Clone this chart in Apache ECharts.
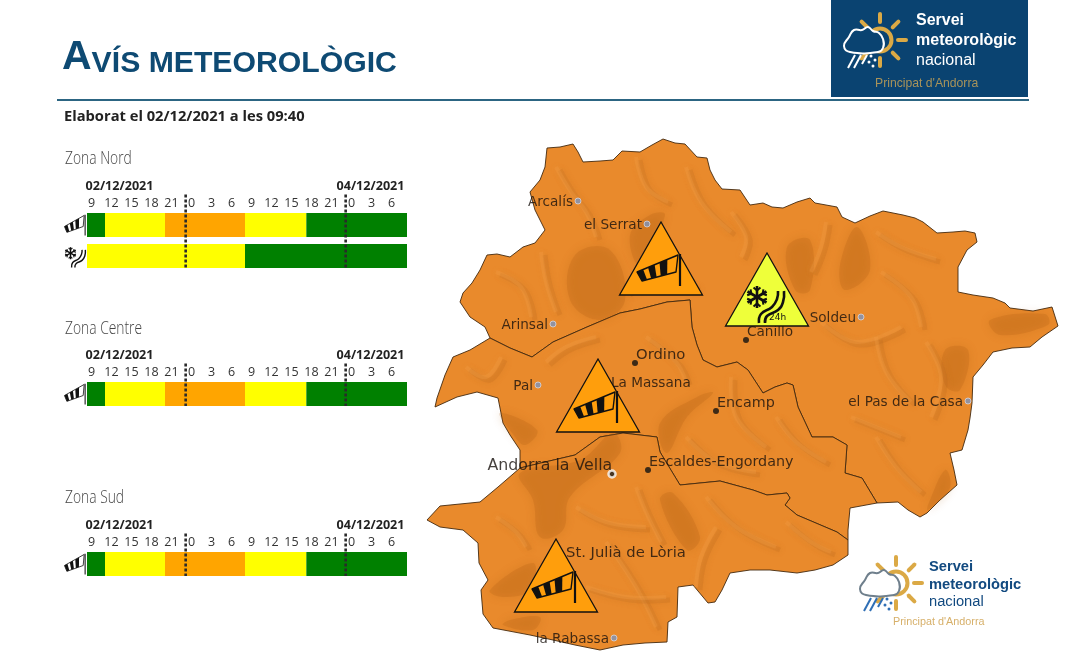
<!DOCTYPE html>
<html lang="ca">
<head>
<meta charset="utf-8">
<title>Avís meteorològic</title>
<script src="https://cdn.jsdelivr.net/npm/echarts@6/dist/echarts.min.js"></script>
<style>
  html, body { margin: 0; padding: 0; background: #fff; }
  #main { width: 1081px; height: 661px; }
</style>
</head>
<body>
<div id="main"></div>
<script type="text/javascript">
// timelines: hours counted from 00:00 of 02/12, [from, to, level]
var windNord = [[9, 11.7, 0], [11.7, 20.7, 1], [20.7, 32.7, 2], [32.7, 41.9, 1], [41.9, 57, 0]];
var iceNord = [[9, 32.7, 1], [32.7, 57, 0]];
var windCentre = [[9, 11.7, 0], [11.7, 20.7, 1], [20.7, 32.7, 2], [32.7, 41.9, 1], [41.9, 57, 0]];
var windSud = [[9, 11.7, 0], [11.7, 20.7, 1], [20.7, 32.7, 2], [32.7, 41.9, 1], [41.9, 57, 0]];
var dayMarks = [23.8, 47.8];
var levelColors = ['#008000', '#ffff00', '#ffa500'];
var zoneNames = ['Zona Nord', 'Zona Centre', 'Zona Sud'];

// map outline pieces, image units
var outlineNord = [[490,338],[485,327],[470,317],[460,302],[463,293],[472,283],[480,270],[487,255],[497,254],[510,257],[523,247],[535,243],[545,230],[540,220],[535,210],[530,192],[540,180],[545,167],[547,148],[560,147],[573,144],[578,152],[583,162],[600,161],[613,160],[622,151],[640,152],[652,145],[663,139],[675,143],[685,144],[697,157],[707,158],[710,170],[715,180],[722,189],[740,190],[750,205],[763,203],[772,207],[783,208],[797,202],[810,198],[815,203],[837,207],[842,217],[855,223],[870,216],[883,211],[903,215],[915,218],[923,222],[937,233],[953,232],[965,231],[975,233],[977,242],[967,250],[958,267],[958,292],[973,295],[993,298],[1005,303],[1010,308],[1033,311],[1052,307],[1058,326],[1042,337],[1030,347],[1012,348],[993,352],[983,365],[973,377],[972,403],[970,418],[968,430],[962,450],[950,453],[954,470],[957,485],[940,500],[927,513],[920,517],[908,510],[898,502],[877,503]];
var borderNordCentre = [[490,338],[510,348],[532,357],[553,342],[587,327],[620,313],[640,309],[667,302],[690,300],[692,327],[697,345],[703,360],[717,367],[737,362],[748,370],[763,393],[775,387],[787,383],[793,385],[798,407],[812,437],[833,437],[847,445],[845,473],[862,478],[877,503]];
var outlineEast = [[877,503],[850,508],[848,530],[848,540]];
var borderCentreSud = [[520,468],[545,462],[575,455],[600,437],[623,433],[657,437],[660,452],[680,485],[720,481],[753,490],[767,495],[787,493],[790,498],[785,505],[797,515],[837,532],[848,540]];
var outlineWest = [[520,468],[520,450],[510,435],[503,423],[498,398],[477,392],[457,397],[435,407],[437,398],[445,375],[453,357],[470,350],[490,338]];
var outlineSud = [[848,540],[848,555],[833,565],[815,570],[797,573],[770,570],[750,570],[730,573],[722,590],[715,602],[708,603],[693,585],[678,587],[677,617],[668,622],[667,642],[645,643],[623,645],[600,650],[575,645],[553,640],[530,635],[493,628],[483,614],[481,590],[488,580],[479,563],[478,543],[463,530],[440,527],[427,520],[440,506],[480,502],[498,487],[520,468]];

// darker slopes of the relief
var shadePatches = [
  [[575,255],[610,250],[625,300],[600,320],[570,300]],
  [[787,247],[810,240],[810,290],[795,290]],
  [[857,227],[840,265],[845,290],[870,270]],
  [[945,350],[968,350],[960,390],[945,385]],
  [[928,505],[945,470],[950,488],[928,510]],
  [[520,473],[580,460],[613,433],[620,453],[570,497],[563,530],[540,537],[533,500]],
  [[490,590],[533,563],[530,590],[503,597]],
  [[510,620],[540,617],[533,630],[503,625]],
  [[660,423],[697,397],[713,393],[687,417],[667,453]],
  [[660,500],[687,550],[700,537],[673,493]],
  [[500,413],[537,430],[525,445],[512,433]],
  [[630,235],[650,215],[665,215],[640,265]],
  [[990,320],[1045,314],[1048,325],[1000,335]]
];
// thin ridge lines of the relief
var ridgeLines = [
  [[560,170],[575,195],[590,215],[600,240]], [[640,160],[650,190],[672,205]], [[690,170],[705,205],[735,235]],
  [[500,275],[525,290],[535,320]], [[545,255],[550,285],[560,315]], [[630,295],[655,285],[700,290]],
  [[735,215],[750,240],[745,260]], [[830,225],[825,250],[815,275]], [[880,235],[905,250],[940,262]],
  [[885,275],[915,300],[925,330]], [[825,325],[860,345],[905,330]], [[880,340],[890,375],[915,405]],
  [[930,345],[945,380],[935,420]], [[880,440],[900,470],[925,495]], [[855,420],[880,430],[905,440]],
  [[470,370],[490,380],[505,360]], [[550,365],[570,350],[600,340]], [[650,340],[680,365],[690,385]],
  [[735,380],[740,420],[770,450]], [[780,420],[800,445],[830,465]], [[690,440],[720,465],[760,475]],
  [[710,500],[740,530],[780,550]], [[790,525],[815,545],[835,555]], [[580,510],[610,525],[650,530]],
  [[610,545],[640,590],[660,630]], [[590,590],[630,600],[670,600]], [[500,520],[520,535],[530,550]],
  [[720,530],[705,560],[700,590]], [[640,490],[650,515],[665,545]]
];

var townNames = ['Arcalís', 'el Serrat', 'Arinsal', 'Pal', 'Ordino', 'La Massana', 'Canillo', 'Encamp', 'Soldeu', 'el Pas de la Casa', 'Escaldes-Engordany', 'Andorra la Vella', 'St. Julià de Lòria', 'la Rabassa'];
var townPlaces = [[578,201],[647,224],[553,324],[538,385],[635,363],[612,392],[746,340],[716,411],[861,317],[968,401],[648,470],[612,474],[564,562],[614,638]];
var townKinds = ['village', 'village', 'village', 'village', 'parish', 'parish', 'parish', 'parish', 'village', 'village', 'parish', 'capital', 'parish', 'village'];
// warnings on the map: apex of the triangle, kind, level
var warnPlaces = [[661,222],[598,359],[556,539],[767,253]];
var warnKinds = ['wind', 'wind', 'wind', 'ice'];
var warnColors = ['#ff9e0c', '#ff9e0c', '#ff9e0c', '#eeff3a'];

var FONT = '"Open Sans", sans-serif';
var MAPFONT = '"DejaVu Sans", sans-serif';
var LOGOFONT = '"Liberation Sans", sans-serif';

function concatRev(list) { return list.slice().reverse(); }
var zoneNord = outlineNord.concat(concatRev(borderNordCentre));
var zoneCentre = borderNordCentre.concat(outlineEast.slice(1), concatRev(borderCentreSud).slice(1), outlineWest.slice(1));
var zoneSud = borderCentreSud.concat(outlineSud.slice(1));

var features = [['Nord', zoneNord], ['Centre', zoneCentre], ['Sud', zoneSud]].map(function (z) {
    return { type: 'Feature', properties: { name: z[0] }, geometry: { type: 'Polygon', coordinates: [z[1].concat([z[1][0]])] } };
});
echarts.registerMap('andorra', { type: 'FeatureCollection', features: features });

var all = zoneNord.concat(zoneCentre, zoneSud);
var xs = all.map(function (p) { return p[0]; }), ys = all.map(function (p) { return p[1]; });
var minX = Math.min.apply(null, xs), maxX = Math.max.apply(null, xs);
var minY = Math.min.apply(null, ys), maxY = Math.max.apply(null, ys);

// windsock, drawn around the apex of a warning triangle
function sockParts(fill) {
    var t0 = [-24, 50], t1 = [17, 33], b0 = [-19, 59], b1 = [15, 50];
    function at(a, b, f) { return [a[0] + (b[0] - a[0]) * f, a[1] + (b[1] - a[1]) * f]; }
    var parts = [{
        type: 'polygon', shape: { points: [t0, t1, b1, b0] },
        style: { fill: fill, stroke: '#111', lineWidth: 1.4, lineJoin: 'round' }
    }];
    [[0, 0.15], [0.27, 0.43], [0.55, 0.74]].forEach(function (b) {
        parts.push({
            type: 'polygon',
            shape: { points: [at(t0, t1, b[0]), at(t0, t1, b[1]), at(b0, b1, b[1]), at(b0, b1, b[0])] },
            style: { fill: '#111' }
        });
    });
    parts.push({ type: 'line', shape: { x1: 19, y1: 32, x2: 19, y2: 64 }, style: { stroke: '#111', lineWidth: 2.2 } });
    return parts;
}

// snowflake and bending road
function iceParts(withLabel) {
    var parts = [];
    var cx = -10, cy = 44, r = 11;
    [0, 60, 120].forEach(function (deg) {
        var a = deg * Math.PI / 180, dx = Math.sin(a) * r, dy = Math.cos(a) * r;
        parts.push({ type: 'line', shape: { x1: cx - dx, y1: cy - dy, x2: cx + dx, y2: cy + dy }, style: { stroke: '#111', lineWidth: 2.6 } });
    });
    [0, 60, 120, 180, 240, 300].forEach(function (deg) {
        var a = deg * Math.PI / 180;
        var mx = cx + Math.sin(a) * 6.5, my = cy + Math.cos(a) * 6.5;
        [-50, 50].forEach(function (off) {
            var b = (deg + off) * Math.PI / 180;
            parts.push({ type: 'line', shape: { x1: mx, y1: my, x2: mx + Math.sin(b) * 4.5, y2: my + Math.cos(b) * 4.5 }, style: { stroke: '#111', lineWidth: 2 } });
        });
    });
    [[[-8, 70], [-6, 61], [5, 54], [10, 46], [11, 38]], [[-2, 70], [0, 63], [11, 57], [16, 49], [17, 38]]].forEach(function (pts) {
        parts.push({ type: 'polyline', shape: { points: pts, smooth: 0.5 }, style: { fill: 'none', stroke: '#111', lineWidth: 2.6 } });
    });
    if (withLabel) {
        parts.push({ type: 'text', style: { x: 2, y: 60, text: '24h', font: '9px ' + MAPFONT, fill: '#111' } });
    }
    return parts;
}

function renderSegment(params, api) {
    var a = api.coord([api.value(0), api.value(2)]);
    var b = api.coord([api.value(1), api.value(2)]);
    var h = api.size([0, 1])[1] * 24 / 31;
    return {
        type: 'rect',
        shape: { x: a[0], y: a[1] - h / 2, width: b[0] - a[0], height: h },
        style: { fill: levelColors[api.value(3)] }
    };
}

function renderDay(params, api) {
    var c = api.coord([api.value(0), 0]);
    var box = params.coordSys;
    return {
        type: 'line',
        shape: { x1: c[0], y1: box.y - 15, x2: c[0], y2: box.y + box.height - 3.5 },
        style: { stroke: '#2a2a2a', lineWidth: 2.6, lineDash: [3, 2] }
    };
}

function renderShade(params, api) {
    var patch = shadePatches[params.dataIndex];
    return {
        type: 'polygon',
        shape: { points: patch.map(function (p) { return api.coord(p); }), smooth: 0.4 },
        style: { fill: '#a85c10', opacity: 0.2, shadowBlur: 10, shadowColor: '#a85c10' }
    };
}

function renderRidge(params, api) {
    var line = ridgeLines[params.dataIndex];
    var pts = line.map(function (p) { return api.coord(p); });
    return {
        type: 'group',
        children: [
            { type: 'polyline', shape: { points: pts, smooth: 0.4 }, style: { fill: 'none', stroke: '#b4661a', opacity: 0.18, lineWidth: 5, shadowBlur: 6, shadowColor: '#b4661a' } },
            { type: 'polyline', x: -4, y: -3, shape: { points: pts, smooth: 0.4 }, style: { fill: 'none', stroke: '#f6a24e', opacity: 0.22, lineWidth: 4, shadowBlur: 5, shadowColor: '#f6a24e' } }
        ]
    };
}

function renderWarn(params, api) {
    var c = api.coord([api.value(0), api.value(1)]);
    var i = params.dataIndex;
    var tri = {
        type: 'polygon',
        shape: { points: [[0, 0], [41.5, 73], [-41.5, 73]] },
        style: { fill: warnColors[i], stroke: '#111', lineWidth: 1.3 }
    };
    var parts = warnKinds[i] === 'wind' ? sockParts(warnColors[i]) : iceParts(true);
    return { type: 'group', x: c[0], y: c[1], children: [tri].concat(parts) };
}

function logo(o) {
    var sunX = o.x, sunY = o.y, kids = [];
    for (var d = 0; d < 360; d += 45) {
        var a = d * Math.PI / 180;
        kids.push({ type: 'line', shape: { x1: sunX + Math.cos(a) * 18, y1: sunY + Math.sin(a) * 18, x2: sunX + Math.cos(a) * 26, y2: sunY + Math.sin(a) * 26 }, style: { stroke: o.sun, lineWidth: 4, lineCap: 'round' } });
    }
    kids.push({ type: 'circle', shape: { cx: sunX, cy: sunY, r: 11.5 }, style: { fill: 'none', stroke: o.sun, lineWidth: 4 } });
    var cloudPts = [[-30, 12], [-36, 6], [-31, -3], [-26, -10], [-18, -10], [-12, -13], [-7, -9], [-1, -7], [3, -1], [3, 8], [-2, 12]].map(function (p) { return [sunX + p[0], sunY + p[1]]; });
    kids.push({ type: 'polygon', shape: { points: cloudPts, smooth: 0.5 }, style: { fill: o.bg, stroke: o.cloud, lineWidth: 2 } });
    [[-25, 15, -32, 28], [-19, 15, -26, 28], [-13, 15, -18, 24]].forEach(function (l) {
        kids.push({ type: 'line', shape: { x1: sunX + l[0], y1: sunY + l[1], x2: sunX + l[2], y2: sunY + l[3] }, style: { stroke: o.rain, lineWidth: 2 } });
    });
    [[-9, 16], [-5, 20], [-11, 22], [-7, 26]].forEach(function (p) {
        kids.push({ type: 'circle', shape: { cx: sunX + p[0], cy: sunY + p[1], r: 1.5 }, style: { fill: o.rain } });
    });
    [['Servei', 'bold', 0], ['meteorològic', 'bold', 1], ['nacional', 'normal', 2]].forEach(function (l) {
        kids.push({ type: 'text', style: { x: o.textX, y: o.textY + l[2] * o.lineGap, text: l[0], font: l[1] + ' ' + o.size + 'px ' + LOGOFONT, fill: o.text, textVerticalAlign: 'middle' } });
    });
    kids.push({ type: 'text', style: { x: o.subX, y: o.subY, text: "Principat d'Andorra", font: o.subSize + 'px ' + LOGOFONT, fill: o.sub, textVerticalAlign: 'middle' } });
    return kids;
}

function txt(x, y, text, font, fill, extra) {
    var el = { type: 'text', x: x, y: y, style: { text: text, font: font, fill: fill, textVerticalAlign: 'middle' } };
    if (extra) { for (var k in extra) { el[k] = extra[k]; } }
    return el;
}

// layout of the timelines
var barTops = [213, 382, 552];
var zoneTitleY = [159.5, 329.5, 498.5];
var gridTops = barTops.map(function (t) { return t - 3.5; });
var gridHeights = [62, 31, 31];
var rowsPerZone = [[windNord, iceNord], [windCentre], [windSud]];
var rowIcons = [['wind', 'ice'], ['wind'], ['wind']];

var grids = [], xAxes = [], yAxes = [], series = [], graphics = [];
rowsPerZone.forEach(function (rows, z) {
    grids.push({ left: 87, width: 320, top: gridTops[z], height: gridHeights[z] });
    xAxes.push({
        gridIndex: z, type: 'value', position: 'top', min: 9, max: 57, interval: 3,
        axisLine: { show: false }, axisTick: { show: false }, splitLine: { show: false },
        axisLabel: {
            margin: 0, showMaxLabel: false, color: '#333', fontFamily: FONT, fontSize: 12.5, padding: [0, 0, 0, 9],
            formatter: function (v) { return String(v % 24); }
        }
    });
    yAxes.push({ gridIndex: z, type: 'category', inverse: true, data: rows.map(function (r, i) { return i; }), show: false });
    var segs = [];
    rows.forEach(function (row, r) {
        row.forEach(function (s) { segs.push([s[0], s[1], r, s[2]]); });
    });
    series.push({ type: 'custom', xAxisIndex: z, yAxisIndex: z, renderItem: renderSegment, data: segs, encode: { x: [0, 1], y: 2 }, silent: true, z: 3 });
    series.push({ type: 'custom', xAxisIndex: z, yAxisIndex: z, renderItem: renderDay, data: dayMarks.map(function (d) { return [d]; }), encode: { x: 0 }, silent: true, z: 4, clip: false });

    graphics.push(txt(65, zoneTitleY[z], zoneNames[z], '300 17.5px ' + FONT, '#444', { scaleX: 0.79 }));
    graphics.push(txt(85.5, barTops[z] - 26.5, '02/12/2021', 'bold 12.6px ' + FONT, '#222'));
    graphics.push(txt(336.5, barTops[z] - 26.5, '04/12/2021', 'bold 12.6px ' + FONT, '#222'));

    rowIcons[z].forEach(function (kind, r) {
        var rowY = barTops[z] + r * 31;
        graphics.push({
            type: 'group',
            x: kind === 'wind' ? 76 : 76,
            y: kind === 'wind' ? rowY - 19 : rowY - 15,
            scaleX: kind === 'wind' ? 0.48 : 0.55,
            scaleY: kind === 'wind' ? 0.65 : 0.55,
            children: kind === 'wind' ? sockParts('#fff') : iceParts(false)
        });
    });
});

// header
graphics.push({
    type: 'text', x: 62, y: 58,
    style: {
        text: '{a|A}{b|VÍS METEOROLÒGIC}', fill: '#0e4a73', textVerticalAlign: 'middle',
        rich: {
            a: { font: 'bold 41px ' + LOGOFONT, fill: '#0e4a73' },
            b: { font: 'bold 30.2px ' + LOGOFONT, fill: '#0e4a73', verticalAlign: 'bottom' }
        }
    }
});
graphics.push({ type: 'line', shape: { x1: 57, y1: 100, x2: 1029, y2: 100 }, style: { stroke: '#2c6582', lineWidth: 2 } });
graphics.push(txt(64, 117, 'Elaborat el 02/12/2021 a les 09:40', 'bold 14.7px ' + FONT, '#222'));

// logos
graphics.push({ type: 'rect', shape: { x: 831, y: 0, width: 197, height: 97 }, style: { fill: '#0a4371' } });
graphics.push({ type: 'group', children: logo({ x: 880, y: 40, cloud: '#fff', rain: '#fff', sun: '#dba945', bg: '#0a4371', text: '#fff', sub: '#a8935a', size: 16, lineGap: 20, textX: 916, textY: 21, subX: 875, subY: 84, subSize: 12.2 }) });
graphics.push({ type: 'group', children: logo({ x: 896, y: 583, cloud: '#6f7f8c', rain: '#2f6fb5', sun: '#dba945', bg: '#fff', text: '#124a80', sub: '#d7b06a', size: 14.7, lineGap: 17.5, textX: 929, textY: 567, subX: 893, subY: 622, subSize: 10.8 }) });

// towns
var dotStyles = {
    village: { color: '#7d93bd', borderColor: '#d7d7e0', borderWidth: 1, symbolSize: 6 },
    parish: { color: '#111', borderColor: '#111', borderWidth: 0, symbolSize: 6 },
    capital: { color: '#222', borderColor: '#fff', borderWidth: 2.5, symbolSize: 7 }
};
var labelPlacing = {
    'Ordino': { position: 'right', offset: [-6, -8], fontSize: 14.8 },
    'La Massana': { position: 'right', offset: [-8, -9] },
    'Canillo': { position: 'right', offset: [-6, -8] },
    'Encamp': { position: 'right', offset: [-6, -8], fontSize: 14.3 },
    'Escaldes-Engordany': { position: 'right', offset: [-6, -8], fontSize: 14.3 },
    'Andorra la Vella': { position: 'left', offset: [9, -8], fontSize: 15.8 },
    'St. Julià de Lòria': { position: 'right', offset: [-5, -9], fontSize: 14.8 }
};
var townData = townNames.map(function (name, i) {
    var s = dotStyles[townKinds[i]], p = labelPlacing[name] || { position: 'left', offset: [2.5, 1] };
    return {
        name: name, value: townPlaces[i], symbolSize: s.symbolSize,
        itemStyle: { color: s.color, borderColor: s.borderColor, borderWidth: s.borderWidth },
        label: { show: true, formatter: name, position: p.position, offset: p.offset, distance: 4, color: '#16100c', fontFamily: MAPFONT, fontSize: p.fontSize || 13.6 }
    };
});

var option = {
    animation: false,
    backgroundColor: '#fff',
    grid: grids, xAxis: xAxes, yAxis: yAxes,
    geo: {
        map: 'andorra', silent: true, roam: false,
        projection: { project: function (p) { return p; }, unproject: function (p) { return p; } },
        left: minX, top: minY, width: maxX - minX, height: maxY - minY,
        label: { show: false },
        itemStyle: { areaColor: '#e98a2c', borderColor: '#43290f', borderWidth: 0.9 },
        emphasis: { disabled: true }
    },
    graphic: graphics,
    series: series.concat([
        { type: 'custom', coordinateSystem: 'geo', renderItem: renderShade, data: shadePatches.map(function (p) { return p[0]; }), silent: true, z: 2 },
        { type: 'custom', coordinateSystem: 'geo', renderItem: renderRidge, data: ridgeLines.map(function (p) { return p[0]; }), silent: true, z: 2 },
        { type: 'scatter', coordinateSystem: 'geo', data: townData, silent: true, z: 3 },
        { type: 'custom', coordinateSystem: 'geo', renderItem: renderWarn, data: warnPlaces, silent: true, z: 6 }
    ])
};

var myChart = echarts.init(document.getElementById('main'));
myChart.setOption(option);
</script>
</body>
</html>
